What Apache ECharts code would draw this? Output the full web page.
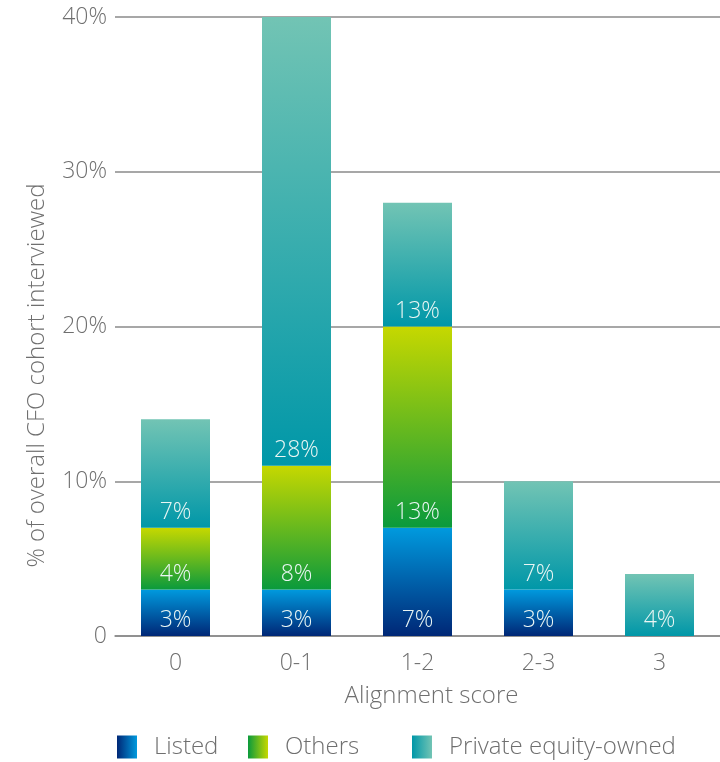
<!DOCTYPE html>
<html>
<head>
<meta charset="utf-8">
<script src="https://cdn.jsdelivr.net/npm/echarts@6/dist/echarts.min.js"></script>
<style>
html, body { margin: 0; padding: 0; background: #fff; }
#chart { width: 720px; height: 762px; }
</style>
</head>
<body>
<div id="chart"></div>
<script>
var categories = ['0', '0-1', '1-2', '2-3', '3'];
var listed = [3, 3, 7, 3, 0];
var others = [4, 8, 13, 0, 0];
var privateEquity = [7, 29, 8, 7, 4];
var listedLabels = ['3%', '3%', '7%', '3%', ''];
var othersLabels = ['4%', '8%', '13%', '', ''];
var privateEquityLabels = ['7%', '28%', '13%', '7%', '4%'];
var yTicks = [0, 10, 20, 30, 40];

var font = '"Open Sans", sans-serif';
var gray = '#6f6f6f';

function vGrad(bottom, top) {
    return new echarts.graphic.LinearGradient(0, 1, 0, 0, [
        { offset: 0, color: bottom },
        { offset: 1, color: top }
    ]);
}
function hGrad(left, right) {
    return new echarts.graphic.LinearGradient(0, 0, 1, 0, [
        { offset: 0, color: left },
        { offset: 1, color: right }
    ]);
}

var colors = {
    listed: ['#002776', '#009ade'],
    others: ['#0a9a3c', '#c6d800'],
    pe: ['#0097a8', '#72c4b4']
};

function barLabel(texts) {
    return {
        show: true,
        position: 'insideBottom',
        distance: 4,
        color: '#eaf6f4',
        fontFamily: font,
        fontWeight: 300,
        fontSize: 23,
        formatter: function (p) { return texts[p.dataIndex]; }
    };
}

// one legend per item so each can sit where the original has it
function legendItem(name, left, grad) {
    return {
        left: left,
        top: 735,
        padding: 0,
        itemWidth: 20,
        itemHeight: 23,
        icon: 'rect',
        textStyle: {
            color: gray,
            fontFamily: font,
            fontWeight: 300,
            fontSize: 24,
            padding: [0, 0, 0, 12]
        },
        data: [{ name: name, itemStyle: { color: grad } }]
    };
}

var myChart = echarts.init(document.getElementById('chart'));

var option = {
    animation: false,
    grid: { left: 115, right: 0, top: 17, bottom: 126 },
    legend: [
        legendItem('Listed', 117, hGrad(colors.listed[0], colors.listed[1])),
        legendItem('Others', 248, hGrad(colors.others[0], colors.others[1])),
        legendItem('Private equity-owned', 412, hGrad(colors.pe[0], colors.pe[1]))
    ],
    xAxis: {
        type: 'category',
        data: categories,
        name: 'Alignment score',
        nameLocation: 'middle',
        nameGap: 48,
        nameTextStyle: {
            color: gray, fontFamily: font, fontWeight: 300, fontSize: 24,
            padding: [0, 0, 0, 28]
        },
        axisLine: { lineStyle: { color: '#8a8a8a', width: 1.5 } },
        axisTick: { show: false },
        axisLabel: { color: gray, fontFamily: font, fontWeight: 300, fontSize: 23, margin: 16 }
    },
    yAxis: {
        type: 'value',
        min: yTicks[0],
        max: yTicks[yTicks.length - 1],
        interval: 10,
        name: '% of overall CFO cohort interviewed',
        nameLocation: 'middle',
        nameGap: 66,
        nameTextStyle: {
            color: gray, fontFamily: font, fontWeight: 300, fontSize: 24,
            padding: [0, 98, 0, 0]
        },
        axisLine: { show: false },
        axisTick: { show: false },
        splitLine: { lineStyle: { color: '#8a8a8a', width: 1.5 } },
        axisLabel: {
            color: gray, fontFamily: font, fontWeight: 300, fontSize: 23, margin: 8,
            formatter: function (v) { return v === 0 ? '0' : v + '%'; }
        }
    },
    series: [
        {
            name: 'Listed',
            type: 'bar',
            stack: 'total',
            barWidth: 69,
            data: listed,
            itemStyle: { color: vGrad(colors.listed[0], colors.listed[1]) },
            label: barLabel(listedLabels)
        },
        {
            name: 'Others',
            type: 'bar',
            stack: 'total',
            barWidth: 69,
            data: others,
            itemStyle: { color: vGrad(colors.others[0], colors.others[1]) },
            label: barLabel(othersLabels)
        },
        {
            name: 'Private equity-owned',
            type: 'bar',
            stack: 'total',
            barWidth: 69,
            data: privateEquity,
            itemStyle: { color: vGrad(colors.pe[0], colors.pe[1]) },
            label: barLabel(privateEquityLabels)
        }
    ]
};

myChart.setOption(option);
</script>
</body>
</html>
